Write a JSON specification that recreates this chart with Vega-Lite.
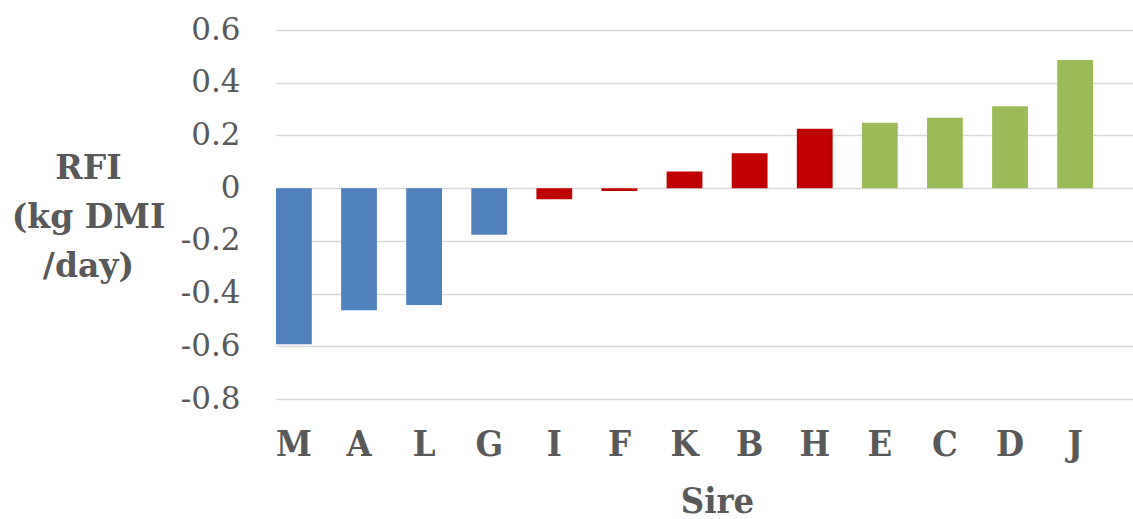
{
  "$schema": "https://vega.github.io/schema/vega-lite/v6.json",
  "width": 857,
  "height": 369,
  "autosize": {"type": "none"},
  "padding": {"left": 276, "top": 30, "right": 0, "bottom": 120},
  "background": "white",
  "data": {
    "values": [
      {"sire": "M", "rfi": -0.592, "group": "low"},
      {"sire": "A", "rfi": -0.463, "group": "low"},
      {"sire": "L", "rfi": -0.443, "group": "low"},
      {"sire": "G", "rfi": -0.177, "group": "low"},
      {"sire": "I", "rfi": -0.042, "group": "mid"},
      {"sire": "F", "rfi": -0.011, "group": "mid"},
      {"sire": "K", "rfi": 0.063, "group": "mid"},
      {"sire": "B", "rfi": 0.132, "group": "mid"},
      {"sire": "H", "rfi": 0.225, "group": "mid"},
      {"sire": "E", "rfi": 0.248, "group": "high"},
      {"sire": "C", "rfi": 0.267, "group": "high"},
      {"sire": "D", "rfi": 0.311, "group": "high"},
      {"sire": "J", "rfi": 0.486, "group": "high"}
    ]
  },
  "config": {
    "view": {"stroke": null},
    "axis": {"labelFont": "DejaVu Serif", "titleFont": "DejaVu Serif"}
  },
  "mark": {"type": "bar"},
  "encoding": {
    "x": {
      "field": "sire",
      "type": "nominal",
      "sort": null,
      "scale": {"paddingInner": 0.45, "paddingOuter": 0.307, "align": 0},
      "axis": {
        "title": "Sire",
        "titleFont": "DejaVu Serif Condensed",
        "titleFontSize": 36,
        "titleFontWeight": "bold",
        "titleColor": "#595959",
        "titleBaseline": "alphabetic",
        "titleX": 441,
        "titleY": 113,
        "labelAngle": 0,
        "labelFont": "DejaVu Serif Condensed",
        "labelFontSize": 36,
        "labelFontWeight": "bold",
        "labelColor": "#595959",
        "labelPadding": 28,
        "ticks": false,
        "domain": false,
        "grid": false
      }
    },
    "y": {
      "field": "rfi",
      "type": "quantitative",
      "scale": {"domain": [-0.8, 0.6], "nice": false, "zero": false},
      "axis": {
        "title": ["RFI", "(kg DMI", "/day)"],
        "titleAngle": 0,
        "titleAlign": "center",
        "titleBaseline": "alphabetic",
        "titleX": -188,
        "titleY": 148,
        "titleLineHeight": 49,
        "titleFontSize": 33,
        "titleFontWeight": "bold",
        "titleColor": "#595959",
        "values": [-0.8, -0.6, -0.4, -0.2, 0, 0.2, 0.4, 0.6],
        "labelExpr": "replace(format(datum.value, '.1~f'), '\u2212', '-')",
        "labelFontSize": 31,
        "labelColor": "#595959",
        "labelPadding": 36,
        "ticks": false,
        "domain": false,
        "grid": true,
        "gridColor": "#d9d9d9",
        "gridWidth": 1.6
      }
    },
    "color": {
      "field": "group",
      "type": "nominal",
      "scale": {"domain": ["low", "mid", "high"], "range": ["#4f81bd", "#c00000", "#9bbb59"]},
      "legend": null
    }
  }
}
